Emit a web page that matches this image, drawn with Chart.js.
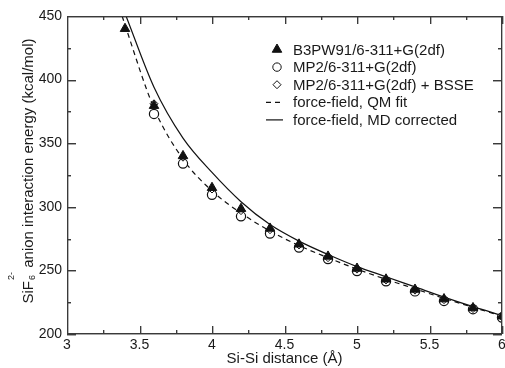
<!DOCTYPE html>
<html>
<head>
<meta charset="utf-8">
<script src="https://cdn.jsdelivr.net/npm/chart.js@4.4.1/dist/chart.umd.min.js"></script>
<style>
html,body{margin:0;padding:0;background:#fff}
#wrap{width:505px;height:368px}
</style>
</head>
<body>
<div id="wrap"><canvas id="chart"></canvas></div>
<script>
// values
const distB3=[3.4,3.6,3.8,4.0,4.2,4.4,4.6,4.8,5.0,5.2,5.4,5.6,5.8,6.0];
const b3pw91=[440,379.5,340,315,298.5,283,270.5,261,251.5,243,235,227.5,220.5,214];
const distMP2=[3.6,3.8,4.0,4.2,4.4,4.6,4.8,5.0,5.2,5.4,5.6,5.8,6.0];
const mp2=[373,334,309.5,292.5,279,268,259,249.5,241.5,233.5,226,219.5,213];
const mp2bsse=[381,339,314,297,282,270,260,251,242.5,234.5,227,220,213.5];
const distQM=[3.38,3.4,3.6,3.8,4.0,4.2,4.4,4.6,4.8,5.0,5.2,5.4,5.6,5.8,6.0];
const qmFit=[450,443,377.5,337.5,312.5,295,281,269.5,260,251,243,235.5,228,221,214];
const distMD=[3.407,3.6,3.8,4.0,4.2,4.4,4.6,4.8,5.0,5.2,5.4,5.6,5.8,6.0];
const mdCorr=[450,394,354,327,304,286,273,262.5,253,245,237,229,221.5,214.5];

const labels=["B3PW91/6-311+G(2df)","MP2/6-311+G(2df)","MP2/6-311+G(2df) + BSSE","force-field, QM fit","force-field, MD corrected"];
const xTicks={min:3,max:6,step:0.5};
const yTicks={min:200,max:450,step:50};

const pts=(xs,ys)=>xs.map((x,i)=>({x:x,y:ys[i]}));
const FONT="'Liberation Sans', Arial, Helvetica, sans-serif";
const INK="#1a1a1a";

const datasets=[
  {label:labels[0],data:pts(distB3,b3pw91),showLine:false,pointStyle:"triangle",pointRadius:5.5,
   pointBackgroundColor:"#111",pointBorderColor:"#111",pointBorderWidth:1,order:0},
  {label:labels[1],data:pts(distMP2,mp2),showLine:false,pointStyle:"circle",pointRadius:4.6,
   pointBackgroundColor:"#fff",pointBorderColor:"#111",pointBorderWidth:1.2,order:2},
  {label:labels[2],data:pts(distMP2,mp2bsse),showLine:false,pointStyle:"rectRot",pointRadius:4,
   pointBackgroundColor:"rgba(255,255,255,0)",pointBorderColor:"#111",pointBorderWidth:1,order:1},
  {label:labels[3],data:pts(distQM,qmFit),showLine:true,pointRadius:0,borderColor:"#111",borderWidth:1.2,
   borderDash:[5,4],cubicInterpolationMode:"monotone",tension:0.4,order:4},
  {label:labels[4],data:pts(distMD,mdCorr),showLine:true,pointRadius:0,borderColor:"#111",borderWidth:1.2,
   cubicInterpolationMode:"monotone",tension:0.4,order:3}
];

function seg(ctx,x1,y1,x2,y2){ctx.beginPath();ctx.moveTo(x1,y1);ctx.lineTo(x2,y2);ctx.stroke();}

function marker(ctx,style,r,x,y,fill){
  ctx.beginPath();
  if(style==="triangle"){
    ctx.moveTo(x,y-r);ctx.lineTo(x+r*0.866,y+r*0.5);ctx.lineTo(x-r*0.866,y+r*0.5);ctx.closePath();
  }else if(style==="circle"){
    ctx.arc(x,y,r,0,Math.PI*2);
  }else{
    ctx.moveTo(x,y-r);ctx.lineTo(x+r,y);ctx.lineTo(x,y+r);ctx.lineTo(x-r,y);ctx.closePath();
  }
  if(fill){ctx.fillStyle="#111";ctx.fill();}
  ctx.lineWidth=1;ctx.strokeStyle="#111";ctx.stroke();
}

// box round the plot with inward major/minor ticks, as filled 1px strips
function drawFrame(chart){
  const ctx=chart.ctx, xs=chart.scales.x, ys=chart.scales.y;
  const L=Math.round(xs.getPixelForValue(xTicks.min)), R=Math.round(xs.getPixelForValue(xTicks.max));
  const T=Math.round(ys.getPixelForValue(yTicks.max)), B=Math.round(ys.getPixelForValue(yTicks.min));
  ctx.save();
  ctx.globalAlpha=1;ctx.globalCompositeOperation="source-over";
  ctx.fillStyle="#3a3a3a";
  ctx.beginPath();
  ctx.rect(L,T,R-L,1.2);
  ctx.rect(L,B-1,R-L,1.2);
  ctx.rect(L,T,1.2,B-T);
  ctx.rect(R-1,T,1.2,B-T);
  for(let v=xTicks.min;v<=xTicks.max+1e-6;v+=xTicks.step/2){
    const px=Math.round(xs.getPixelForValue(v));
    const major=Math.abs(v/xTicks.step-Math.round(v/xTicks.step))<1e-6;
    const len=major?8:4;
    ctx.rect(px,B-len,1.2,len);
    ctx.rect(px,T,1.2,len);
  }
  for(let v=yTicks.min;v<=yTicks.max+1e-6;v+=yTicks.step/2){
    const py=Math.round(ys.getPixelForValue(v));
    const major=Math.abs(v/yTicks.step-Math.round(v/yTicks.step))<1e-6;
    const len=major?9:4;
    ctx.rect(L,py,len,1.2);
    ctx.rect(R-len,py,len,1.2);
  }
  ctx.fill();
  ctx.restore();
}

const extras={
  id:"extras",
  beforeDatasetsDraw(chart){drawFrame(chart);},
  afterDraw(chart){
    const ctx=chart.ctx, ys=chart.scales.y;
    ctx.save();
    // y title with SiF6 2- scripts
    ctx.fillStyle=INK;
    const big="15px "+FONT, small="9px "+FONT;
    ctx.font=big;
    const w1=ctx.measureText("SiF").width;
    const rest=" anion interaction energy (kcal/mol)";
    const w3=ctx.measureText(rest).width;
    ctx.font=small;
    const w2=Math.max(ctx.measureText("2-").width,ctx.measureText("6").width)+1;
    const total=w1+w2+w3;
    const cy=(ys.getPixelForValue(yTicks.min)+ys.getPixelForValue(yTicks.max))/2-4;
    ctx.translate(33,cy+total/2);
    ctx.rotate(-Math.PI/2);
    ctx.textBaseline="alphabetic";ctx.textAlign="left";
    ctx.font=big;ctx.fillText("SiF",0,0);
    ctx.font=small;
    ctx.fillText("2-",w1+1,-19);
    ctx.fillText("6",w1+1,2);
    ctx.font=big;ctx.fillText(rest,w1+w2,0);
    ctx.setTransform(1,0,0,1,0,0);
    // legend
    const lx=277, tx=293, ly0=49.5, dy=17.6;
    ctx.font=big;ctx.textBaseline="middle";
    chart.data.datasets.forEach((d,i)=>{
      const y=ly0+i*dy;
      if(d.showLine){
        ctx.strokeStyle="#111";ctx.lineWidth=1.2;
        ctx.setLineDash(d.borderDash||[]);
        seg(ctx,266,y,283,y);
        ctx.setLineDash([]);
      }else{
        marker(ctx,d.pointStyle,d.pointRadius-(d.pointStyle==="circle"?0.4:0),lx,y,d.pointStyle==="triangle");
      }
      ctx.fillStyle=INK;
      ctx.fillText(d.label,tx,y+1);
    });
    ctx.restore();
    drawFrame(chart);
  }
};

new Chart(document.getElementById("chart"),{
  type:"scatter",
  data:{datasets:datasets},
  options:{
    responsive:true,maintainAspectRatio:false,animation:false,
    layout:{autoPadding:false,padding:{top:16,right:3,left:0,bottom:0}},
    plugins:{legend:{display:false},tooltip:{enabled:false}},
    scales:{
      x:{type:"linear",min:xTicks.min,max:xTicks.max,
        ticks:{stepSize:xTicks.step,color:INK,font:{family:FONT,size:14},padding:-5,maxRotation:0,
          callback:v=>String(v)},
        grid:{display:false},border:{display:false},
        title:{display:true,text:"Si-Si distance (Å)",color:INK,font:{family:FONT,size:15},padding:{top:0,bottom:0}},
        afterFit(s){s.height=34;}},
      y:{type:"linear",min:yTicks.min,max:yTicks.max,
        ticks:{stepSize:yTicks.step,color:INK,font:{family:FONT,size:14},padding:-3},
        grid:{display:false},border:{display:false},
        afterFit(s){s.width=67;}}
    }
  },
  plugins:[extras]
});
</script>
</body>
</html>
